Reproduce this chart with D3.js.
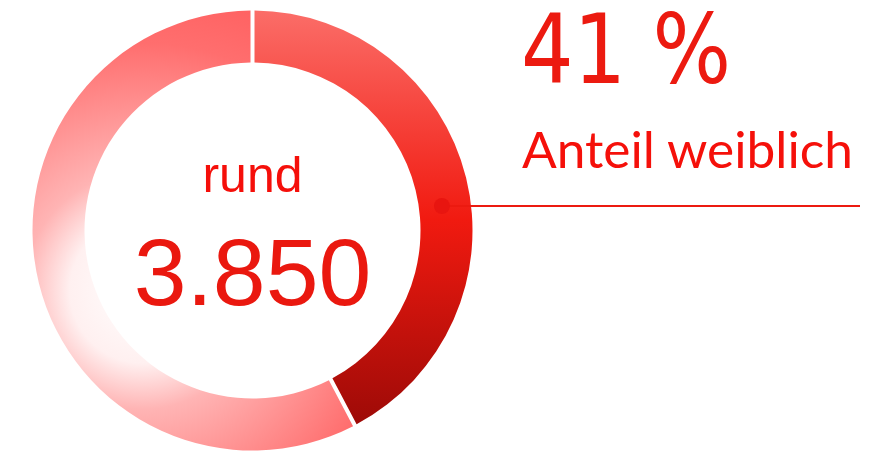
<!DOCTYPE html>
<html>
<head>
<meta charset="utf-8">
<script src="https://d3js.org/d3.v7.min.js"></script>
<style>
  body { margin: 0; background: #fff; }
</style>
</head>
<body>
<script>
// Anteil am Ring, wie im Bild gezeichnet (weiblich, rest)
var groups = ["weiblich", "maennlich"];
var shares = [42.3, 57.7];

var totalPrefix = "rund";
var totalLabel = "3.850";
var shareLabel = "41 %";
var shareText = "Anteil weiblich";

var w = 892, h = 452;
var cx = 252.5, cy = 230.5;
var outerR = 220, innerR = 168;
var leaderY = 206;

var svg = d3.select("body").append("svg")
  .attr("width", w)
  .attr("height", h);

var defs = svg.append("defs");

// Verlaeufe liegen im Koordinatensystem des Rings (Mitte = 0,0)
var gRed = defs.append("linearGradient")
  .attr("id", "gRed")
  .attr("gradientUnits", "userSpaceOnUse")
  .attr("x1", 0).attr("y1", -outerR)
  .attr("x2", 0).attr("y2", outerR * 0.9);
gRed.append("stop").attr("offset", 0).attr("stop-color", "#fb6d68");
gRed.append("stop").attr("offset", 0.5).attr("stop-color", "#f11a10");
gRed.append("stop").attr("offset", 1).attr("stop-color", "#9c0a07");

// heller Teil: von innen links weiss nach aussen rosa
var gPink = defs.append("radialGradient")
  .attr("id", "gPink")
  .attr("gradientUnits", "userSpaceOnUse")
  .attr("cx", -110).attr("cy", 60)
  .attr("r", 330);
gPink.append("stop").attr("offset", 0).attr("stop-color", "#ffffff");
gPink.append("stop").attr("offset", 0.22).attr("stop-color", "#fff0f0");
gPink.append("stop").attr("offset", 0.36).attr("stop-color", "#ffb4b4");
gPink.append("stop").attr("offset", 0.75).attr("stop-color", "#ff6e6e");
gPink.append("stop").attr("offset", 1).attr("stop-color", "#ff5c5c");

var fills = d3.scaleOrdinal()
  .domain(groups)
  .range(["url(#gRed)", "url(#gPink)"]);

var pie = d3.pie().sort(null).value(function(d) { return d.v; });
var arc = d3.arc()
  .innerRadius(innerR)
  .outerRadius(outerR)
  .padRadius(outerR)
  .padAngle(4 / outerR);

var data = groups.map(function(g, i) { return { k: g, v: shares[i] }; });

var ring = svg.append("g")
  .attr("transform", "translate(" + cx + "," + cy + ")");

ring.selectAll("path")
  .data(pie(data))
  .enter().append("path")
  .attr("d", arc)
  .attr("fill", function(d) { return fills(d.data.k); });

// Verbindungslinie zum Label
var midR = (innerR + outerR) / 2 - 3;
var dotX = cx + Math.sqrt(midR * midR - (leaderY - cy) * (leaderY - cy));

svg.append("line")
  .attr("x1", dotX).attr("y1", leaderY)
  .attr("x2", 860).attr("y2", leaderY)
  .attr("stroke", "#ec1a10")
  .attr("stroke-width", 2);

svg.append("circle")
  .attr("cx", dotX).attr("cy", leaderY)
  .attr("r", 8)
  .attr("fill", "#e81510");

// Texte in der Mitte
svg.append("text")
  .attr("x", cx).attr("y", 192)
  .attr("text-anchor", "middle")
  .attr("font-family", "Liberation Sans, Arial, sans-serif")
  .attr("font-size", 50)
  .attr("fill", "#f50f0a")
  .text(totalPrefix);

svg.append("text")
  .attr("x", cx).attr("y", 305)
  .attr("text-anchor", "middle")
  .attr("font-family", "Liberation Sans, Arial, sans-serif")
  .attr("font-size", 95)
  .attr("fill", "#ea180f")
  .text(totalLabel);

// Label rechts
svg.append("text")
  .attr("x", 521).attr("y", 83)
  .attr("font-family", "DejaVu Sans, sans-serif")
  .attr("font-size", 96)
  .attr("fill", "#ec1a10")
  .attr("textLength", 210)
  .attr("lengthAdjust", "spacingAndGlyphs")
  .text(shareLabel);

svg.append("text")
  .attr("x", 522).attr("y", 168)
  .attr("font-family", "Lato, Noto Sans, sans-serif")
  .attr("font-size", 50)
  .attr("fill", "#f5100a")
  .attr("textLength", 331)
  .attr("lengthAdjust", "spacingAndGlyphs")
  .text(shareText);
</script>
</body>
</html>
